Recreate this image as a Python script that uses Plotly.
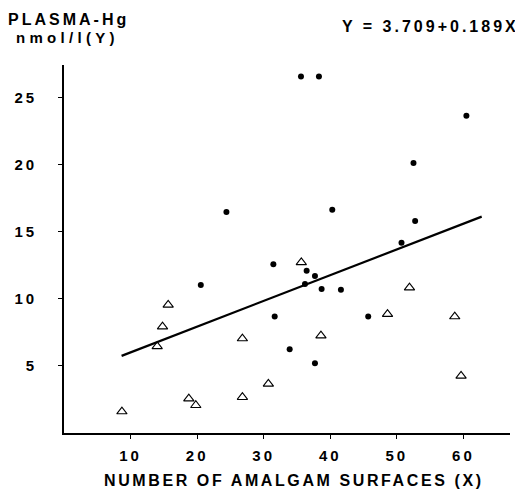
import plotly.graph_objects as go

# Filled dots
dots_x = [35.6, 38.3, 60.45, 52.5, 40.3, 52.75, 50.7, 24.4, 20.55, 31.45, 31.65, 33.9,
          36.45, 37.7, 38.7, 41.6, 36.2, 45.7, 37.7]
dots_y = [26.57, 26.57, 23.64, 20.13, 16.65, 15.81, 14.19, 16.48, 11.04, 12.58, 8.68, 6.25,
          12.1, 11.71, 10.74, 10.67, 11.1, 8.68, 5.2]

# Open triangles
tri_x = [15.65, 14.8, 14.0, 26.8, 30.7, 26.8, 18.75, 19.8, 8.7, 35.65, 48.6, 51.9, 58.7, 38.6, 59.65]
tri_y = [9.55, 7.93, 6.46, 7.04, 3.66, 2.67, 2.56, 2.07, 1.6, 12.72, 8.86, 10.84, 8.68, 7.26, 4.26]

# Regression line end points (as drawn)
line_x = [8.65, 62.75]
line_y = [5.75, 16.13]

x_ticks = [10, 20, 30, 40, 50, 60]
y_ticks = [5, 10, 15, 20, 25]

FONT = "Liberation Sans, Arial, sans-serif"


def sp(t, ls=2.5):
    return f'<span style="letter-spacing:{ls}px">{t}</span>'


fig = go.Figure()
fig.add_trace(go.Scatter(x=line_x, y=line_y, mode="lines",
                         line=dict(color="black", width=2.2), hoverinfo="skip"))
fig.add_trace(go.Scatter(x=tri_x, y=tri_y, mode="markers",
                         marker=dict(symbol="triangle-up-open", size=9,
                                     color="black", line=dict(width=1.1, color="black"))))
fig.add_trace(go.Scatter(x=dots_x, y=dots_y, mode="markers",
                         marker=dict(symbol="circle", size=6, color="black")))

# page body has an 8px default margin
OFF = 8
W, H = 523 - OFF, 493 - OFF
L, T = 64 - OFF, 65 - OFF
R = W - (510 - OFF)
B = H - (433 - OFF)
pw, ph = W - L - R, H - T - B


def px(x):
    return (x - OFF - L) / pw


def py(y):
    return (H - B - (y - OFF)) / ph


fig.update_layout(
    width=W, height=H,
    margin=dict(l=L, r=R, t=T, b=B),
    paper_bgcolor="white", plot_bgcolor="white",
    showlegend=False,
    font=dict(family=FONT, color="black", size=15),
    xaxis=dict(range=[0, 67], showgrid=False, zeroline=False, automargin=False,
               showline=True, linecolor="black", linewidth=1.6,
               ticks="outside", ticklen=4, tickwidth=1.2, tickcolor="black",
               tickvals=x_ticks, ticktext=[sp("<b>%s</b>" % v, 3) for v in x_ticks],
               tickfont=dict(size=15, family=FONT), ticklabelstandoff=4),
    yaxis=dict(range=[0, (433 - 65) / 13.415], showgrid=False, zeroline=False, automargin=False,
               showline=True, linecolor="black", linewidth=1.6,
               ticks="outside", ticklen=4, tickwidth=1.2, tickcolor="black",
               tickvals=y_ticks, ticktext=[sp("<b>%s</b>" % v, 3) for v in y_ticks],
               tickfont=dict(size=15, family=FONT), ticklabelstandoff=18),
    annotations=[
        dict(text=sp("<b>PLASMA-Hg</b>", 3), xref="paper", yref="paper",
             x=px(68), y=py(19), showarrow=False,
             xanchor="center", yanchor="middle", font=dict(size=16)),
        dict(text=sp("<b>nmol/l(Y)</b>", 4.3), xref="paper", yref="paper",
             x=px(67), y=py(37), showarrow=False,
             xanchor="center", yanchor="middle", font=dict(size=15)),
        dict(text=sp("<b>Y = 3.709+0.189X</b>", 3), xref="paper", yref="paper",
             x=px(430), y=py(26), showarrow=False,
             xanchor="center", yanchor="middle", font=dict(size=16)),
        dict(text=sp("<b>NUMBER OF AMALGAM SURFACES (X)</b>", 2.6), xref="paper", yref="paper",
             x=px(294), y=py(481), showarrow=False,
             xanchor="center", yanchor="middle", font=dict(size=16)),
    ],
)

fig.write_html("out.html")
